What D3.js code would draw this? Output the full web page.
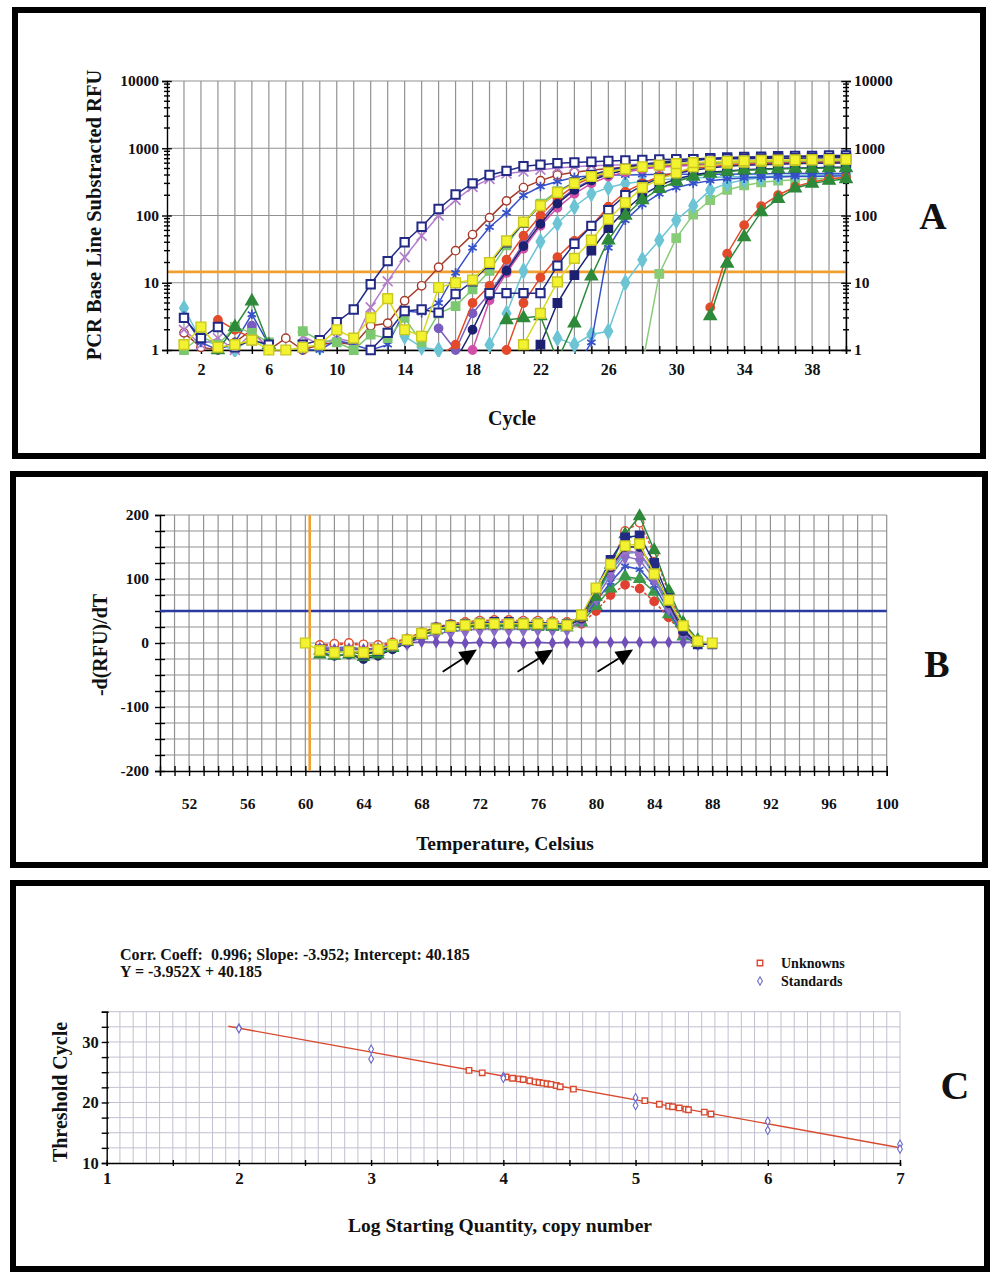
<!DOCTYPE html>
<html>
<head>
<meta charset="utf-8">
<title>Real-time PCR</title>
<script src="https://cdn.jsdelivr.net/npm/d3@7"></script>
<style>
body { margin: 0; background: #fff; }
svg text { font-family: "Liberation Serif", "Times New Roman", serif; font-weight: bold; fill: #111; }
.grid line { stroke: #929292; stroke-width: 1.2; }
.gridc line { stroke: #c0c0d0; stroke-width: 1; }
.axis path, .axis line { stroke: #000; stroke-width: 1.4; }
.ser path.ln { fill: none; stroke-width: 1.5; }
</style>
</head>
<body>
<svg id="fig" width="994" height="1274"></svg>
<script>
"use strict";
var _ = null;

// ---------- panel A : amplification curves (cycle 1..40) ----------
var cycles = [1,2,3,4,5,6,7,8,9,10,11,12,13,14,15,16,17,18,19,20,21,22,23,24,25,26,27,28,29,30,31,32,33,34,35,36,37,38,39,40];
var ampNavy1   = [3.0,1.5,2.2,1.1,1.4,1.2,_,1.2,1.4,2.6,4.0,9.5,21,40,68,125,205,300,400,460,540,570,600,615,630,645,660,670,680,685,690,695,700,700,705,710,710,715,720,720];
var ampPlum    = [2.0,1.2,1.5,1.0,1.8,1.1,_,1.6,1.2,1.5,1.3,4.3,10.5,24,50,100,170,265,350,420,450,480,510,530,550,560,570,580,590,590,600,600,610,610,615,620,620,625,630,630];
var ampBrown   = [1.8,1.1,1.0,1.3,2.0,1.0,1.5,1.0,1.2,1.3,1.2,2.3,2.5,5.4,9.0,17,30,52,93,165,260,330,400,440,470,500,520,540,560,570,580,590,600,600,610,610,620,620,620,630];
var ampBlue1   = [3.2,1.3,1.0,1.3,3.4,1.2,_,1.0,1.0,1.4,1.2,1.0,1.2,3.8,3.6,5.0,14,33,67,110,200,270,320,370,390,400,400,405,410,410,410,410,410,415,415,420,420,420,420,420];
var ampGreen1  = [1.0,1.6,1.2,2.2,1.8,1.3,_,1.9,1.4,1.3,1.0,1.7,1.5,3.0,1.3,3.5,4.5,8.0,15,36,78,150,230,310,390,450,500,540,570,590,600,610,620,630,630,640,640,650,650,650];
var ampNavy2   = [_,_,_,_,_,_,_,_,_,_,_,1.0,1.8,3.8,4.0,3.6,6.8,10.5,19,40,78,140,220,310,400,470,530,580,620,660,690,710,730,740,750,760,770,770,780,780];
var ampRed1    = [_,_,2.8,2.0,1.5,_,_,_,_,_,_,_,_,_,_,0.8,1.2,5.0,9.0,22,50,100,180,280,370,440,490,530,560,580,600,610,620,630,640,640,650,650,660,660];
var ampPurple  = [_,_,_,_,2.3,_,_,_,_,_,_,_,_,_,_,2.1,1.0,3.5,7.0,16,38,85,160,250,340,420,470,510,540,560,570,580,590,600,600,610,610,620,620,620];
var ampDkNavy  = [_,_,_,_,_,_,_,_,_,_,_,_,_,_,_,_,0.7,2.0,6.5,15,35,75,150,240,330,410,480,540,590,630,660,690,710,720,730,740,750,750,760,760];
var ampMagenta = [_,_,_,_,_,_,_,_,_,_,_,_,_,_,_,_,_,1.0,5.5,14,32,70,130,210,300,380,440,490,520,540,560,570,580,590,590,600,600,610,610,610];
var ampCyan1   = [4.2,1.4,1.2,1.0,1.5,1.1,_,_,1.1,_,_,_,_,1.6,1.1,1.0,_,_,1.2,3.5,15,41,76,135,210,260,300,320,340,350,360,370,375,380,380,385,390,390,395,400];
var ampRed2    = [_,_,_,_,_,_,_,_,_,_,_,_,_,_,_,_,_,_,_,1.0,5.0,12,24,42,70,135,225,300,380,440,500,530,560,580,590,600,610,610,620,620];
var ampYellow2 = [_,_,_,_,_,_,_,_,_,_,_,_,_,_,_,_,_,_,_,_,1.2,3.5,10.3,23,43,88,155,260,345,430,530,560,600,620,640,650,660,670,670,680];
var ampNavy3   = [_,_,_,_,_,_,_,_,_,_,_,_,_,_,_,_,_,_,7.0,7.0,7.0,7.0,18,38,70,120,200,280,360,420,470,510,540,560,570,580,590,600,600,610];
var ampDkNavy2 = [_,_,_,_,_,_,_,_,_,_,_,_,_,_,_,_,_,_,_,_,0.6,1.2,5.0,13,30,65,120,200,280,350,400,440,460,480,490,500,510,510,520,520];
var ampBlue2   = [_,_,_,_,_,_,_,_,_,_,_,_,_,_,_,_,_,_,_,_,_,_,_,0.5,1.3,33,85,145,210,260,300,330,350,360,370,375,380,380,385,390];
var ampDkGreen = [_,_,1.0,2.2,5.3,1.2,_,_,_,_,_,_,_,_,_,_,_,_,_,2.8,3.0,3.2,0.7,2.5,12.5,43,100,170,250,320,380,420,450,470,480,490,500,500,510,510];
var ampCyan2   = [_,_,_,_,_,_,_,_,_,_,_,_,_,_,_,_,_,_,_,_,_,_,1.5,1.2,1.7,1.9,10,22,43,85,140,240,300,340,360,380,390,400,400,410];
var ampGreen2  = [_,_,_,_,_,_,_,_,_,_,_,_,_,_,_,_,_,_,_,_,_,_,_,_,_,_,_,0.6,13.5,46,103,170,240,280,310,330,340,350,355,360];
var ampYellow1 = [1.2,2.2,1.1,1.2,1.4,1.0,1.0,1.1,1.2,2.0,1.5,3.0,5.8,2.0,1.6,8.5,10,11,20,42,80,140,220,300,380,440,490,530,560,590,610,630,640,650,660,665,670,675,680,680];
var ampRed3    = [_,_,_,_,_,_,_,_,_,_,_,_,_,_,_,_,_,_,_,_,_,_,_,_,_,_,_,_,_,_,_,4.3,27,72,138,200,268,316,350,370];
var ampGreen3  = [_,_,_,_,_,_,_,_,_,_,_,_,_,_,_,_,_,_,_,_,_,_,_,_,_,_,_,_,_,_,_,3.2,19.4,48,113,178,255,300,330,350];
var ampThreshold = 14.5;
var ampYTicks = [1, 10, 100, 1000, 10000];
var ampXLabels = [2, 6, 10, 14, 18, 22, 26, 30, 34, 38];

// ---------- panel B : melt curves (60..88 C) ----------
var temps = [60,61,62,63,64,65,66,67,68,69,70,71,72,73,74,75,76,77,78,79,80,81,82,83,84,85,86,87,88];
var meltYellow  = [0,-12,-15,-13,-15,-10,-3,5,15,22,26,28,30,30,30,30,30,30,28,44,86,123,152,155,108,67,27,3,0];
var meltGreen   = [_,-18,-20,-18,-22,-18,-8,2,12,20,24,27,28,28,28,27,27,26,28,40,72,122,170,198,145,82,32,5,_];
var meltRedHi   = [_,-3,-1,0,-2,-3,1,7,17,25,30,33,35,36,36,35,35,34,33,40,75,120,175,188,140,78,28,3,_];
var meltNavy    = [_,-10,-14,-12,-18,-12,-5,3,15,24,28,30,32,33,33,32,32,31,30,42,85,130,165,168,125,70,22,-2,-2];
var meltNavy2   = [_,-15,-20,-18,-25,-20,-10,0,12,20,24,26,28,28,28,28,28,27,26,38,78,118,150,150,115,62,18,0,_];
var meltPurple  = [_,-8,-10,-9,-10,-8,-4,0,8,14,18,20,22,22,22,22,22,22,22,35,70,105,135,130,100,55,15,0,_];
var meltBlue    = [_,-5,-8,-6,-10,-8,-2,4,14,22,26,28,30,30,30,30,30,29,28,36,65,95,120,115,90,50,12,-2,_];
var meltGreenLo = [_,-12,-15,-12,-18,-14,-6,2,12,20,24,25,26,26,26,26,25,25,24,32,58,85,104,100,80,45,10,0,_];
var meltRedLo   = [_,-4,-3,-1,-4,-5,0,6,14,20,24,26,27,27,27,26,26,25,24,30,50,75,91,85,65,40,12,0,_];
var meltTeal    = [_,-10,-12,-12,-14,-10,-4,3,13,21,25,27,29,29,29,29,28,28,27,38,75,112,140,142,105,60,18,0,_];
var meltMagenta = [_,-6,-9,-8,-12,-9,-3,3,14,22,26,28,29,29,29,29,29,28,27,40,80,115,145,140,110,62,18,-1,_];
var meltFlat    = [_,-8,-10,-9,-10,-8,-4,0,2,1,1,0,1,0,1,0,1,0,1,1,1,1,1,1,1,1,1,2,_];
var meltThreshold = 50;
var meltMarker = 60.3;
var meltArrows = [[69.45, -45, 71.8, -10], [74.6, -45, 77.05, -10], [80.1, -45, 82.55, -10]];
var meltYLabels = [-200, -100, 0, 100, 200];
var meltXLabels = [52, 56, 60, 64, 68, 72, 76, 80, 84, 88, 92, 96, 100];

// ---------- panel C : standard curve ----------
var stdX = [2, 2, 3, 3, 4, 4, 5, 5, 6, 6, 7, 7];
var stdY = [32.3, 32.2, 28.8, 27.2, 24.3, 24.0, 20.8, 19.5, 16.9, 15.4, 13.1, 12.3];
var unkX = [3.74, 3.84, 4.02, 4.07, 4.12, 4.15, 4.2, 4.24, 4.27, 4.3, 4.33, 4.36, 4.4, 4.43, 4.53, 5.07, 5.18, 5.25, 5.28, 5.33, 5.38, 5.4, 5.52, 5.57];
var unkY = [25.3, 24.9, 24.2, 24.0, 23.9, 23.8, 23.6, 23.4, 23.3, 23.2, 23.1, 23.0, 22.8, 22.6, 22.2, 20.3, 19.7, 19.4, 19.3, 19.1, 18.9, 18.8, 18.4, 18.1];
var fitSlope = -3.952, fitIntercept = 40.185, fitRange = [1.92, 7];
var stdXLabels = [1, 2, 3, 4, 5, 6, 7];
var stdYLabels = [10, 20, 30];

var svg = d3.select("#fig");
svg.append("rect").attr("width", 994).attr("height", 1274).attr("fill", "#fff");

var star = d3.symbolAsterisk || d3.symbolCross;
var crossX = d3.symbolTimes || d3.symbolCross;

function marks(g, pts, x, y, st, size) {
  var sym = d3.symbol().type(st.sym).size(size);
  var stroked = (st.sym === star || st.sym === crossX);
  g.selectAll(null).data(pts).enter().append("path")
    .attr("transform", function(d) { return "translate(" + x(d[0]) + "," + y(d[1]) + ")"; })
    .attr("d", sym)
    .attr("fill", stroked ? "none" : (st.open ? "#fff" : st.fill || st.color))
    .attr("stroke", st.edge || st.color)
    .attr("stroke-width", stroked ? 1.7 : (st.sw || 1.4));
}

// ====================== PANEL A ======================
svg.append("rect").attr("x", 15).attr("y", 10).attr("width", 968).attr("height", 446)
  .attr("fill", "none").attr("stroke", "#000").attr("stroke-width", 6);

var xA = d3.scaleLinear().domain([0, 40]).range([167, 846]);
var yA = d3.scaleLog().domain([1, 10000]).range([350, 81]);
var gA = svg.append("g");

gA.append("g").attr("class", "grid").selectAll("line").data(cycles).enter().append("line")
  .attr("x1", function(d) { return xA(d); }).attr("x2", function(d) { return xA(d); })
  .attr("y1", yA(10000)).attr("y2", yA(1));
gA.append("g").attr("class", "grid").selectAll("line").data(ampYTicks).enter().append("line")
  .attr("x1", xA(0)).attr("x2", xA(40))
  .attr("y1", function(d) { return yA(d); }).attr("y2", function(d) { return yA(d); });

gA.append("line").attr("x1", xA(0)).attr("x2", xA(40)).attr("y1", yA(ampThreshold)).attr("y2", yA(ampThreshold))
  .attr("stroke", "#f0a030").attr("stroke-width", 2.6);

var minorA = [];
ampYTicks.slice(0, 4).forEach(function(p) { [2,3,4,5,6,7,8,9].forEach(function(m) { minorA.push(p * m); }); });

[[xA(0), d3.axisLeft, -8], [xA(40), d3.axisRight, 8]].forEach(function(s) {
  var ax = gA.append("g").attr("class", "axis").attr("transform", "translate(" + s[0] + ",0)")
    .call(s[1](yA).tickValues(ampYTicks).tickFormat(d3.format("d")).tickSize(5).tickPadding(3));
  ax.selectAll(".tick line").attr("x1", -s[2] * 0.6);
  ax.selectAll("text").attr("font-size", 15.5).attr("fill", "#111");
  ax.selectAll(".minor").data(minorA).enter().append("line")
    .attr("x1", -3).attr("x2", 3)
    .attr("y1", function(d) { return yA(d); }).attr("y2", function(d) { return yA(d); })
    .attr("stroke", "#000").attr("stroke-width", 1);
});

var axA = gA.append("g").attr("class", "axis").attr("transform", "translate(0," + yA(1) + ")")
  .call(d3.axisBottom(xA).tickValues(cycles).tickFormat(function(d) { return ampXLabels.indexOf(d) >= 0 ? d : ""; })
    .tickSize(4).tickPadding(10));
axA.selectAll(".tick line").attr("y1", -4);
axA.selectAll("text").attr("font-size", 16).attr("fill", "#111");

svg.append("clipPath").attr("id", "clipA").append("rect").attr("x", 160).attr("y", 74).attr("width", 694).attr("height", 277);
svg.append("clipPath").attr("id", "clipAm").append("rect").attr("x", 160).attr("y", 74).attr("width", 694).attr("height", 283);

var ampSeries = [
  [ampCyan1,   {color: "#6cc4d4", sym: d3.symbolDiamond}],
  [ampGreen2,  {color: "#88cc78", sym: d3.symbolSquare}],
  [ampCyan2,   {color: "#6cc4d4", sym: d3.symbolDiamond}],
  [ampBrown,   {color: "#a63a2a", sym: d3.symbolCircle, open: true}],
  [ampPlum,    {color: "#b47ccc", sym: crossX}],
  [ampBlue1,   {color: "#3550c8", sym: star}],
  [ampPurple,  {color: "#7a5cc0", sym: d3.symbolCircle}],
  [ampMagenta, {color: "#d050a8", sym: d3.symbolCircle}],
  [ampRed1,    {color: "#e24a2a", sym: d3.symbolCircle}],
  [ampDkNavy,  {color: "#1c2070", sym: d3.symbolCircle}],
  [ampGreen1,  {color: "#7cc870", sym: d3.symbolSquare}],
  [ampNavy2,   {color: "#232a86", sym: d3.symbolSquare, open: true, sw: 2}],
  [ampRed2,    {color: "#e24a2a", sym: d3.symbolCircle}],
  [ampDkNavy2, {color: "#1c2070", sym: d3.symbolSquare}],
  [ampNavy3,   {color: "#232a86", sym: d3.symbolSquare, open: true, sw: 2}],
  [ampBlue2,   {color: "#3550c8", sym: star}],
  [ampDkGreen, {color: "#2e8a3a", sym: d3.symbolTriangle}],
  [ampRed3,    {color: "#e24a2a", sym: d3.symbolCircle}],
  [ampGreen3,  {color: "#2e8a3a", sym: d3.symbolTriangle}],
  [ampNavy1,   {color: "#232a86", sym: d3.symbolSquare, open: true, sw: 2}],
  [ampYellow2, {color: "#d8d820", fill: "#f2f230", edge: "#c8c820", sym: d3.symbolSquare}],
  [ampYellow1, {color: "#d8d820", fill: "#f2f230", edge: "#c8c820", sym: d3.symbolSquare}]
];

var lineA = d3.line().defined(function(d) { return d[1] != null; })
  .x(function(d) { return xA(d[0]); }).y(function(d) { return yA(d[1]); });

ampSeries.forEach(function(s) {
  var pts = cycles.map(function(c, i) { return [c, s[0][i]]; });
  var g = gA.append("g").attr("class", "ser");
  g.append("path").attr("class", "ln").attr("clip-path", "url(#clipA)")
    .attr("d", lineA(pts)).attr("stroke", s[1].color);
  var gm = g.append("g").attr("clip-path", "url(#clipAm)");
  var sz = s[1].sym === d3.symbolSquare ? (s[1].fill ? 95 : 70) : (s[1].sym === d3.symbolCircle ? 55 : 65);
  marks(gm, pts.filter(function(d) { return d[1] != null && d[1] >= 0.95; }), xA, yA, s[1], sz);
});

svg.append("text").attr("transform", "translate(101,215) rotate(-90)").attr("text-anchor", "middle")
  .attr("font-size", 20.5).text("PCR Base Line Substracted RFU");
svg.append("text").attr("x", 512).attr("y", 425).attr("text-anchor", "middle").attr("font-size", 20).text("Cycle");
svg.append("text").attr("x", 933).attr("y", 229).attr("text-anchor", "middle").attr("font-size", 38).text("A");

// ====================== PANEL B ======================
svg.append("rect").attr("x", 13).attr("y", 474).attr("width", 972).attr("height", 391)
  .attr("fill", "none").attr("stroke", "#000").attr("stroke-width", 6);

var xB = d3.scaleLinear().domain([50, 100]).range([160, 886.7]);
var yB = d3.scaleLinear().domain([-200, 200]).range([771, 515]);
var gB = svg.append("g");

gB.append("g").attr("class", "grid").selectAll("line").data(d3.range(51, 101)).enter().append("line")
  .attr("x1", function(d) { return xB(d); }).attr("x2", function(d) { return xB(d); })
  .attr("y1", yB(200)).attr("y2", yB(-200));
gB.append("g").attr("class", "grid").selectAll("line").data(d3.range(-175, 201, 25)).enter().append("line")
  .attr("x1", xB(50)).attr("x2", xB(100))
  .attr("y1", function(d) { return yB(d); }).attr("y2", function(d) { return yB(d); });

var axBy = gB.append("g").attr("class", "axis").attr("transform", "translate(" + xB(50) + ",0)")
  .call(d3.axisLeft(yB).tickValues(d3.range(-200, 201, 25))
    .tickFormat(function(d) { return meltYLabels.indexOf(d) >= 0 ? d : ""; }).tickSize(5).tickPadding(6));
axBy.selectAll(".tick line").attr("x1", 5);
axBy.selectAll("text").attr("font-size", 15.5).attr("fill", "#111");

var axBx = gB.append("g").attr("class", "axis").attr("transform", "translate(0," + yB(-200) + ")")
  .call(d3.axisBottom(xB).tickValues(d3.range(50, 101))
    .tickFormat(function(d) { return meltXLabels.indexOf(d) >= 0 ? d : ""; }).tickSize(5).tickPadding(22));
axBx.selectAll(".tick line").attr("y1", -5);
axBx.selectAll("text").attr("font-size", 15.5).attr("fill", "#111");

gB.append("line").attr("x1", xB(50)).attr("x2", xB(100)).attr("y1", yB(meltThreshold)).attr("y2", yB(meltThreshold))
  .attr("stroke", "#2a3aa0").attr("stroke-width", 2.4);
gB.append("line").attr("x1", xB(meltMarker)).attr("x2", xB(meltMarker)).attr("y1", yB(200)).attr("y2", yB(-200))
  .attr("stroke", "#f0a030").attr("stroke-width", 2.6);

var meltSeries = [
  [meltRedLo,   {color: "#e04030", sym: d3.symbolCircle, dash: "3,2"}],
  [meltGreenLo, {color: "#3a9a4a", sym: d3.symbolTriangle}],
  [meltBlue,    {color: "#3a55c8", sym: star}],
  [meltTeal,    {color: "#40a0b8", sym: d3.symbolDiamond}],
  [meltPurple,  {color: "#8a6cc8", sym: d3.symbolDiamond, width: 3.5}],
  [meltMagenta, {color: "#a070c8", sym: d3.symbolCircle, width: 3}],
  [meltNavy2,   {color: "#23286e", sym: d3.symbolCircle, width: 2}],
  [meltRedHi,   {color: "#e05030", sym: d3.symbolCircle, open: true, dash: "3,2"}],
  [meltGreen,   {color: "#2e8a3a", sym: d3.symbolTriangle}],
  [meltNavy,    {color: "#232a86", sym: d3.symbolSquare, width: 2}],
  [meltFlat,    {color: "#7050b8", sym: d3.symbolDiamond, small: true}],
  [meltYellow,  {color: "#d8d820", fill: "#f2f230", edge: "#c8c820", sym: d3.symbolSquare}]
];

var lineB = d3.line().defined(function(d) { return d[1] != null; })
  .x(function(d) { return xB(d[0]); }).y(function(d) { return yB(d[1]); });

meltSeries.forEach(function(s) {
  var pts = temps.map(function(t, i) { return [t, s[0][i]]; });
  var g = gB.append("g").attr("class", "ser");
  g.append("path").attr("class", "ln").attr("d", lineB(pts)).attr("stroke", s[1].color)
    .attr("stroke-width", s[1].width || 1.5).attr("stroke-dasharray", s[1].dash || null);
  var sz = s[1].small ? 30 : (s[1].sym === d3.symbolSquare ? (s[1].fill ? 95 : 70) : 55);
  marks(g, pts.filter(function(d) { return d[1] != null; }), xB, yB, s[1], sz);
});

gB.selectAll(".arrow").data(meltArrows).enter().append("g").each(function(a) {
  var x1 = xB(a[0]), y1 = yB(a[1]), x2 = xB(a[2]), y2 = yB(a[3]);
  var ang = Math.atan2(y2 - y1, x2 - x1), L = 17, W = 8;
  var bx = x2 - L * Math.cos(ang), by = y2 - L * Math.sin(ang);
  var g = d3.select(this);
  g.append("line").attr("x1", x1).attr("y1", y1).attr("x2", bx).attr("y2", by)
    .attr("stroke", "#000").attr("stroke-width", 1.8);
  g.append("path").attr("fill", "#000").attr("d",
    "M" + x2 + "," + y2 +
    "L" + (bx + W * Math.sin(ang)) + "," + (by - W * Math.cos(ang)) +
    "L" + (bx - W * Math.sin(ang)) + "," + (by + W * Math.cos(ang)) + "Z");
});

svg.append("text").attr("transform", "translate(107,645) rotate(-90)").attr("text-anchor", "middle")
  .attr("font-size", 20).text("-d(RFU)/dT");
svg.append("text").attr("x", 505).attr("y", 850).attr("text-anchor", "middle").attr("font-size", 19.5).text("Temperature, Celsius");
svg.append("text").attr("x", 937).attr("y", 677).attr("text-anchor", "middle").attr("font-size", 38).text("B");

// ====================== PANEL C ======================
svg.append("rect").attr("x", 13).attr("y", 883).attr("width", 974).attr("height", 386)
  .attr("fill", "none").attr("stroke", "#000").attr("stroke-width", 6);

var xC = d3.scaleLinear().domain([1, 7]).range([106.7, 900]);
var yC = d3.scaleLinear().domain([10, 35]).range([1163, 1011.7]);
var gC = svg.append("g");

gC.append("g").attr("class", "gridc").selectAll("line").data(d3.range(11, 71).map(function(v) { return v / 10; })).enter().append("line")
  .attr("x1", function(d) { return xC(d); }).attr("x2", function(d) { return xC(d); })
  .attr("y1", yC(35)).attr("y2", yC(10));
gC.append("g").attr("class", "gridc").selectAll("line").data([12.5, 15, 17.5, 20, 22.5, 25, 27.5, 30, 32.5, 35]).enter().append("line")
  .attr("x1", xC(1)).attr("x2", xC(7))
  .attr("y1", function(d) { return yC(d); }).attr("y2", function(d) { return yC(d); });

var axCy = gC.append("g").attr("class", "axis").attr("transform", "translate(" + xC(1) + ",0)")
  .call(d3.axisLeft(yC).tickValues(d3.range(10, 35.1, 2.5))
    .tickFormat(function(d) { return stdYLabels.indexOf(d) >= 0 ? d : ""; }).tickSize(5).tickPadding(3));
axCy.selectAll(".tick line").attr("x1", 2);
axCy.selectAll("text").attr("font-size", 16.5).attr("fill", "#111");

var axCx = gC.append("g").attr("class", "axis").attr("transform", "translate(0," + yC(10) + ")")
  .call(d3.axisBottom(xC).tickValues(d3.range(1, 7.01, 0.5))
    .tickFormat(function(d) { return stdXLabels.indexOf(d) >= 0 ? d : ""; }).tickSize(3).tickPadding(6));
axCx.selectAll(".tick line").attr("y1", -3);
axCx.selectAll("text").attr("font-size", 17).attr("fill", "#111");

gC.append("line")
  .attr("x1", xC(fitRange[0])).attr("y1", yC(fitSlope * fitRange[0] + fitIntercept))
  .attr("x2", xC(fitRange[1])).attr("y2", yC(fitSlope * fitRange[1] + fitIntercept))
  .attr("stroke", "#d84a30").attr("stroke-width", 1.4);

marks(gC, unkX.map(function(x, i) { return [x, unkY[i]]; }), xC, yC, {color: "#d84a30", sym: d3.symbolSquare, open: true}, 30);
marks(gC, stdX.map(function(x, i) { return [x, stdY[i]]; }), xC, yC, {color: "#6a6ac8", sym: d3.symbolDiamond, open: true, sw: 1.1}, 20);

svg.append("text").attr("x", 120).attr("y", 960).attr("font-size", 16).attr("xml:space", "preserve")
  .style("white-space", "pre").text("Corr. Coeff:  0.996; Slope: -3.952; Intercept: 40.185");
svg.append("text").attr("x", 120).attr("y", 977).attr("font-size", 16).text("Y = -3.952X + 40.185");

marks(svg.append("g"), [[760, 963]], function(v) { return v; }, function(v) { return v; }, {color: "#d84a30", sym: d3.symbolSquare, open: true}, 30);
marks(svg.append("g"), [[760, 981]], function(v) { return v; }, function(v) { return v; }, {color: "#6a6ac8", sym: d3.symbolDiamond, open: true, sw: 1.1}, 20);
svg.append("text").attr("x", 781).attr("y", 968).attr("font-size", 14).text("Unknowns");
svg.append("text").attr("x", 781).attr("y", 986).attr("font-size", 14).text("Standards");

svg.append("text").attr("transform", "translate(67,1092) rotate(-90)").attr("text-anchor", "middle")
  .attr("font-size", 20).text("Threshold Cycle");
svg.append("text").attr("x", 500).attr("y", 1232).attr("text-anchor", "middle").attr("font-size", 19.5).text("Log Starting Quantity, copy number");
svg.append("text").attr("x", 955).attr("y", 1099).attr("text-anchor", "middle").attr("font-size", 40).text("C");
</script>
</body>
</html>
